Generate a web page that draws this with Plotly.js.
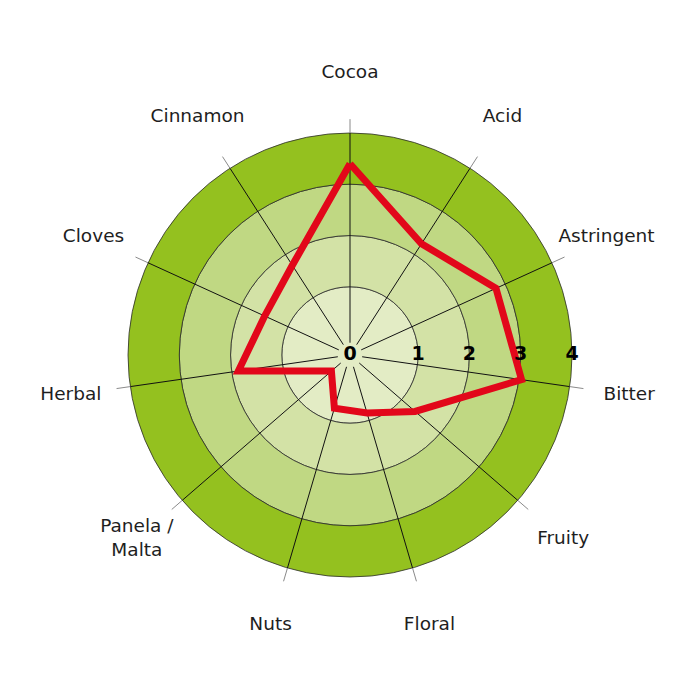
<!DOCTYPE html>
<html>
<head>
<meta charset="utf-8">
<script src="https://cdn.plot.ly/plotly-3.0.1.min.js"></script>
<style>
  html, body { margin: 0; padding: 0; background: #fff; }
  #grafico { width: 700px; height: 700px; }
</style>
</head>
<body>
<div id="grafico"></div>
<script>
// Dados do perfil de sabor
var categorias = ['Cocoa', 'Acid', 'Astringent', 'Bitter', 'Fruity', 'Floral', 'Nuts',
                  'Panela /<br>Malta', 'Herbal', 'Cloves', 'Cinnamon'];
var valores = [3.4, 2.25, 2.8, 3.05, 1.35, 0.85, 0.75, 0.15, 1.87, 1.5, 1.75];
var ticksRadiais = [0, 1, 2, 3, 4];

// Faixas de fundo (inicio e fim de cada anel)
var faixasInicio = [0, 1, 2, 3];
var faixasFim = [1, 2, 3, 4];
var faixasCor = ['#e3ecc5', '#d3e2a6', '#c0d883', '#94c11f'];

var R_MIN = -0.33;      // o centro do grafico
var R_MAX = 4;          // anel externo
var R_RAIO = 4.27;      // ate onde vao os raios
var R_ROTULO = 5.17;    // posicao dos nomes
var R_LIMITE = 5.5;     // limite do eixo (deixa espaco para os nomes)
var FOLGA_ZERO = 0.24;  // espaco em volta do "0"

// o zero fica no centro
function posR(v) { return v <= 0 ? R_MIN : v; }

// angulo de cada categoria (graus)
var angulos = categorias.map(function (c, i) { return i * 360 / categorias.length; });

// Aneis coloridos
var bandas = {
    type: 'barpolar',
    theta: faixasInicio.map(function () { return 180; }),
    width: faixasInicio.map(function () { return 360; }),
    base: faixasInicio.map(posR),
    r: faixasFim.map(function (f, i) { return f - posR(faixasInicio[i]); }),
    marker: { color: faixasCor, line: { color: '#2b2b2b', width: 0.8 } },
    hoverinfo: 'skip',
    showlegend: false
};

// Raios (pretos dentro, cinza fora)
var raiosR = [], raiosT = [], foraR = [], foraT = [];
angulos.forEach(function (a) {
    raiosR.push(R_MIN + FOLGA_ZERO, R_MAX, null); raiosT.push(a, a, null);
    foraR.push(R_MAX, R_RAIO, null); foraT.push(a, a, null);
});
var raios = {
    type: 'scatterpolar', mode: 'lines', r: raiosR, theta: raiosT,
    line: { color: '#111', width: 1 }, hoverinfo: 'skip', showlegend: false
};
var raiosFora = {
    type: 'scatterpolar', mode: 'lines', r: foraR, theta: foraT,
    line: { color: '#8a8a8a', width: 1 }, hoverinfo: 'skip', showlegend: false
};

// Linha vermelha
var perfil = {
    type: 'scatterpolar', mode: 'lines',
    r: valores.concat([valores[0]]),
    theta: angulos.concat([angulos[0]]),
    line: { color: '#e2071a', width: 7 },
    showlegend: false
};

// Nomes das categorias
var nomes = {
    type: 'scatterpolar', mode: 'text',
    r: angulos.map(function () { return R_ROTULO; }),
    theta: angulos, text: categorias,
    textposition: 'middle center',
    textfont: { family: 'DejaVu Sans', size: 18.5, color: '#1e1e1e' },
    cliponaxis: false, hoverinfo: 'skip', showlegend: false
};

// Numeros do eixo radial
var numeros = {
    type: 'scatterpolar', mode: 'text',
    r: ticksRadiais.map(posR),
    theta: ticksRadiais.map(function () { return 90; }),
    text: ticksRadiais.map(String),
    textposition: 'middle center',
    textfont: { family: 'DejaVu Sans', size: 19, color: '#000', weight: 'bold' },
    cliponaxis: false, hoverinfo: 'skip', showlegend: false
};

// escala: 4 unidades + centro = 222 px
var pxUnidade = 222 / (R_MAX - R_MIN);
var raioPx = pxUnidade * (R_LIMITE - R_MIN);
var cx = 350, cy = 345;

var layout = {
    width: 700,
    height: 700,
    margin: { t: 0, b: 0, l: 0, r: 0 },
    paper_bgcolor: '#fff',
    showlegend: false,
    polar: {
        domain: {
            x: [(cx - raioPx) / 700, (cx + raioPx) / 700],
            y: [(cy - raioPx) / 700, (cy + raioPx) / 700]
        },
        bgcolor: 'rgba(0,0,0,0)',
        radialaxis: {
            range: [R_MIN, R_LIMITE],
            showgrid: false, showline: false, showticklabels: false, ticks: ''
        },
        angularaxis: {
            type: 'linear', thetaunit: 'degrees',
            rotation: 90, direction: 'clockwise',
            showgrid: false, showline: false, showticklabels: false, ticks: ''
        }
    }
};

Plotly.newPlot('grafico', [bandas, raios, raiosFora, perfil, nomes, numeros], layout, { displayModeBar: false });
</script>
</body>
</html>
